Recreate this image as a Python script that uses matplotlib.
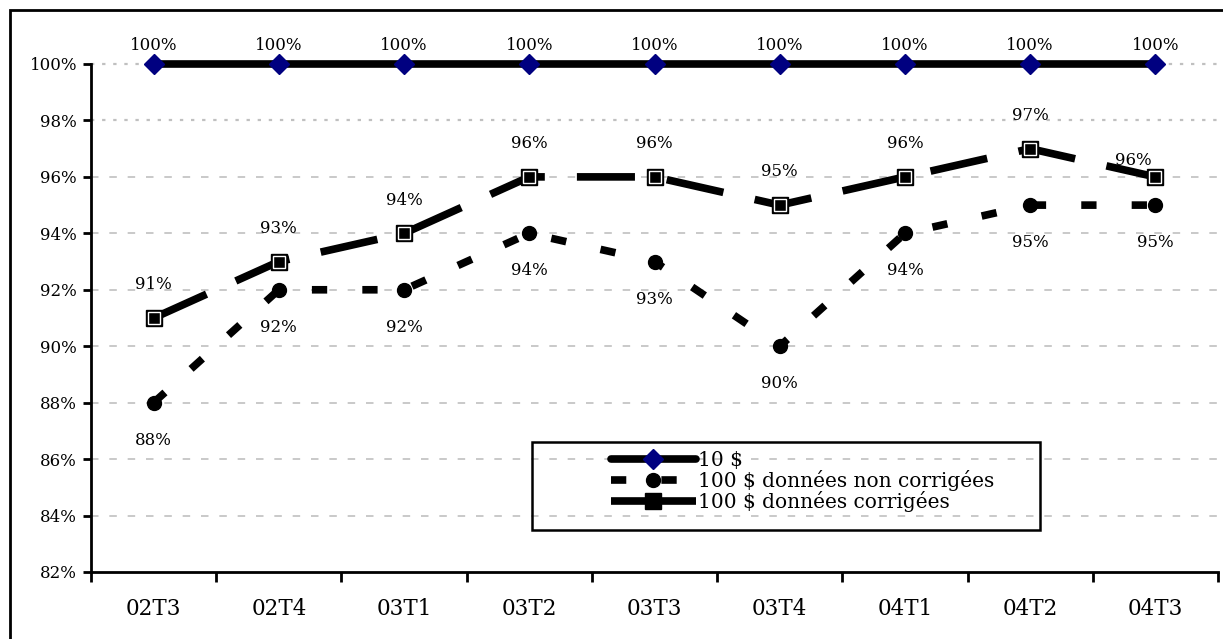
import matplotlib
matplotlib.use("Agg")
import matplotlib.pyplot as plt
from matplotlib.patches import Rectangle
from matplotlib.lines import Line2D

# ── Data ──────────────────────────────────────────────────────────────────────
quarters = ["02T3", "02T4", "03T1", "03T2", "03T3", "03T4", "04T1", "04T2", "04T3"]
s10 = [100, 100, 100, 100, 100, 100, 100, 100, 100]
s100_raw = [88, 92, 92, 94, 93, 90, 94, 95, 95]
s100_fix = [91, 93, 94, 96, 96, 95, 96, 97, 96]
yticks = [82, 84, 86, 88, 90, 92, 94, 96, 98, 100]

labels = ["10 $", "100 $ données non corrigées", "100 $ données corrigées"]

plt.rcParams["font.family"] = ["DejaVu Serif"]

W, H = 1223, 639
fig = plt.figure(figsize=(W / 100, H / 100), dpi=100)
ax = fig.add_axes([91 / W, 1 - 572 / H, (1218 - 91) / W, (572 - 64) / H])

x = list(range(len(quarters)))

# ── Grid ──────────────────────────────────────────────────────────────────────
for yv in yticks[1:]:
    if yv >= 98:
        ax.axhline(yv, color="#c0c0c0", lw=1.6, dashes=(1.5, 3.5), zorder=1, clip_on=False)
    else:
        ax.axhline(yv, color="#c0c0c0", lw=1.2, dashes=(4.5, 6.5), zorder=1)

# ── Series ────────────────────────────────────────────────────────────────────
ax.plot(x, s10, color="black", lw=5.5, solid_capstyle="butt", zorder=3, clip_on=False)
ax.plot(x, s10, ls="none", marker="D", ms=10, color="#000080", zorder=4, clip_on=False)

ax.plot(x, s100_raw, color="black", lw=5.5, dashes=(2.0, 4.6), dash_capstyle="butt", zorder=3)
ax.plot(x, s100_raw, ls="none", marker="o", ms=10, color="black", zorder=4)

ax.plot(x, s100_fix, color="black", lw=5.5, dashes=(7.6, 4.2), dash_capstyle="butt", zorder=3)
ax.plot(x, s100_fix, ls="none", marker="s", ms=11, mfc="black", mec="black", zorder=4)
ax.plot(x, s100_fix, ls="none", marker="s", ms=9, mfc="none", mec="white", mew=1.0, zorder=5)

# ── Data labels ───────────────────────────────────────────────────────────────
lab_kw = dict(textcoords="offset points", ha="center", va="center", fontsize=12)
for xi, v in zip(x, s10):
    ax.annotate(f"{v}%", (xi, v), xytext=(0, 13), annotation_clip=False, **lab_kw)
for xi, v in zip(x, s100_raw):
    ax.annotate(f"{v}%", (xi, v), xytext=(0, -27), **lab_kw)
for i, (xi, v) in enumerate(zip(x, s100_fix)):
    off = (-16, 12) if i == len(x) - 1 else (0, 24)
    ax.annotate(f"{v}%", (xi, v), xytext=off, **lab_kw)

# ── Axes ──────────────────────────────────────────────────────────────────────
ax.set_xlim(-0.5, len(quarters) - 0.5)
ax.set_ylim(82, 100)
ax.set_yticks(yticks)
ax.set_yticklabels([f"{v}%" for v in yticks], fontsize=12)
ax.set_xticks([i - 0.5 for i in range(len(quarters) + 1)])
ax.set_xticklabels([])
ax.set_xticks(x, minor=True)
ax.set_xticklabels(quarters, minor=True, fontsize=15.5)
ax.tick_params(axis="x", which="minor", length=0, pad=19)
ax.tick_params(axis="x", which="major", direction="out", length=7, width=2)
ax.tick_params(axis="y", direction="out", length=6, width=2, pad=4)
for side in ("top", "right"):
    ax.spines[side].set_visible(False)
for side in ("left", "bottom"):
    ax.spines[side].set_linewidth(2)

# ── Legend (manual frame) ─────────────────────────────────────────────────────
fig.patches.append(Rectangle((532 / W, 1 - 530 / H), (1040 - 532) / W, 88 / H,
                             transform=fig.transFigure, fill=False, lw=1.8,
                             edgecolor="black", zorder=10))
handles = [
    Line2D([], [], color="black", lw=5.5, marker="D", ms=10, mfc="#000080", mec="#000080",
           solid_capstyle="round"),
    Line2D([], [], color="black", lw=5.5, dashes=(2.0, 4.6), marker="o", ms=10),
    Line2D([], [], color="black", lw=5.5, marker="s", ms=11, solid_capstyle="butt"),
]
fig.legend(handles, labels, loc="upper left", bbox_to_anchor=(608 / W, 1 - 448 / H),
           frameon=False, fontsize=14.5, handlelength=4.2, handletextpad=0.1,
           labelspacing=0.0, borderpad=0.15, borderaxespad=0)

# ── Outer frame ───────────────────────────────────────────────────────────────
fig.patches.append(Rectangle((10 / W, -0.05), 1.2, 1 - 10 / H + 0.05,
                             transform=fig.transFigure, fill=False, lw=2,
                             edgecolor="black"))

fig.savefig("out.png", dpi=100)
